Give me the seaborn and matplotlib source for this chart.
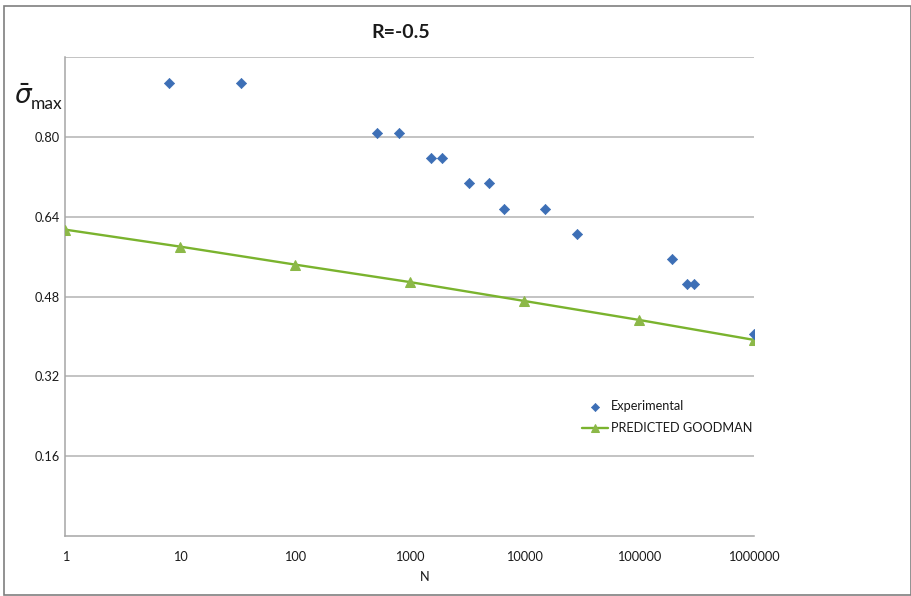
import matplotlib
matplotlib.use("Agg")
import matplotlib.pyplot as plt
from matplotlib.patches import Rectangle
import seaborn as sns
import pandas as pd

# Experimental fatigue results
exp_cycles = [8, 34, 520, 810, 1530, 1900, 3260, 4900, 6700, 15100, 28500,
              192000, 262000, 300000, 1000000]
exp_sigma = [0.908, 0.908, 0.807, 0.807, 0.757, 0.757, 0.707, 0.707, 0.655,
             0.655, 0.605, 0.556, 0.505, 0.505, 0.404]

# Goodman prediction
pred_cycles = [1, 10, 100, 1000, 10000, 100000, 1000000]
pred_sigma = [0.614, 0.580, 0.544, 0.509, 0.471, 0.433, 0.393]

y_ticks = [0.16, 0.32, 0.48, 0.64, 0.80, 0.96]
y_tick_labels = ["0.16", "0.32", "0.48", "0.64", "0.80", ""]
x_ticks = [1, 10, 100, 1000, 10000, 100000, 1000000]
x_tick_labels = ["1", "10", "100", "1000", "10000", "100000", "1000000"]

exp_df = pd.DataFrame({"N": exp_cycles, "sigma": exp_sigma})
pred_df = pd.DataFrame({"N": pred_cycles, "sigma": pred_sigma})

sns.set_style("white")
plt.rcParams["font.family"] = ["Lato", "DejaVu Sans"]
plt.rcParams["mathtext.fontset"] = "dejavusans"

TXT = "#1a1a1a"
W, H = 912, 596
fig = plt.figure(figsize=(W / 100, H / 100), dpi=100)
fig.patch.set_facecolor("white")
fig.patches.append(Rectangle((4 / W, 1 / H), 907 / W, 589 / H, transform=fig.transFigure,
                             fill=False, edgecolor="#7f7f7f", linewidth=1.2))

ax = fig.add_axes([65.3 / W, (H - 536) / H, (754 - 65.3) / W, (536 - 57) / H])

sns.lineplot(data=pred_df, x="N", y="sigma", ax=ax, color="#7AB32E", linewidth=1.7,
             marker="^", markersize=7, markerfacecolor="#8CB848", markeredgecolor="#8CB848",
             label="PREDICTED GOODMAN", zorder=3)
sns.scatterplot(data=exp_df, x="N", y="sigma", ax=ax, color="#3D6FB6", marker="D",
                s=27, edgecolor="#3D6FB6", linewidth=0.5, label="Experimental", zorder=4)

ax.set_xscale("log")
ax.set_xlim(1, 1e6)
ax.set_ylim(0, 0.96)
ax.set_xticks(x_ticks)
ax.set_xticklabels(x_tick_labels)
ax.xaxis.set_minor_locator(matplotlib.ticker.NullLocator())
ax.set_yticks(y_ticks)
ax.set_yticklabels(y_tick_labels)
ax.tick_params(axis="both", length=0, labelsize=9.2, colors=TXT)
ax.tick_params(axis="x", pad=11)
ax.tick_params(axis="y", pad=4)
ax.yaxis.grid(True, color="#b3b3b3", linewidth=1.1)
ax.xaxis.grid(False)
ax.set_axisbelow(True)
for side in ("top", "right"):
    ax.spines[side].set_visible(False)
for side in ("left", "bottom"):
    ax.spines[side].set_color("#a6a6a6")
    ax.spines[side].set_linewidth(1.1)
ax.set_xlabel("")
ax.set_ylabel("")

handles, labels = ax.get_legend_handles_labels()
order = [labels.index("Experimental"), labels.index("PREDICTED GOODMAN")]
ax.legend([handles[i] for i in order], [labels[i] for i in order],
          loc="upper left", bbox_to_anchor=(582 / W, 1 - 400 / H),
          bbox_transform=fig.transFigure, frameon=False, fontsize=9.2,
          borderpad=0, handlelength=2.0, handletextpad=0.25, labelspacing=0.8,
          borderaxespad=0, markerscale=0.8, labelcolor=TXT)

fig.text(401 / W, 1 - 32 / H, "R=-0.5", ha="center", va="center",
         fontsize=14, fontweight="bold", color=TXT)
fig.text(425 / W, 1 - 577 / H, "N", ha="center", va="center", fontsize=9.2,
         color=TXT)
fig.text(14 / W, 1 - 96 / H, r"$\bar{\sigma}$", ha="left", va="center",
         fontsize=19, color=TXT)
fig.text(31 / W, 1 - 104 / H, "max", ha="left", va="center",
         fontsize=12.5, color=TXT)

fig.savefig("out.png", dpi=100, facecolor="white")
